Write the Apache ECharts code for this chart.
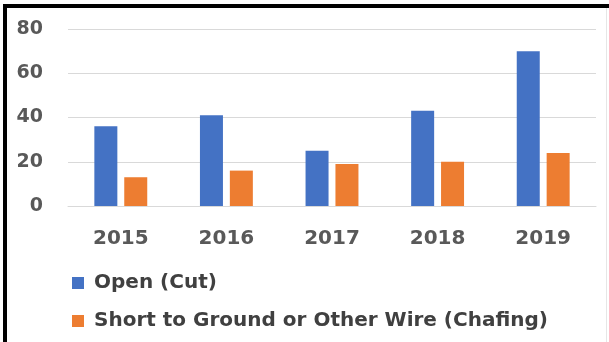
<!DOCTYPE html>
<html><head><meta charset="utf-8">
<script src="https://cdn.jsdelivr.net/npm/echarts@6/dist/echarts.min.js"></script>
<style>html,body{margin:0;padding:0;background:#fff}#c{width:609px;height:342px}</style>
</head><body><div id="c"></div>
<script>
const categories = ['2015','2016','2017','2018','2019'];
const openCut = [36, 41, 25, 43, 70];
const shortChafing = [13, 16, 19, 20, 24];
const seriesNames = ['Open (Cut)', 'Short to Ground or Other Wire (Chafing)'];

const chart = echarts.init(document.getElementById('c'));
const font = '"DejaVu Sans", sans-serif';
chart.setOption({
  animation: false,
  graphic: [
    {type:'rect', shape:{x:3,y:4,width:4,height:338}, style:{fill:'#000'}},
    {type:'rect', shape:{x:3,y:4,width:606,height:4}, style:{fill:'#000'}},
    {type:'rect', shape:{x:606,y:8,width:1,height:334}, style:{fill:'#e6e6e6'}}
  ],
  grid: {left:68, right:13, top:29, bottom:136, containLabel:false},
  legend: {
    orient:'vertical', left:67, top:268, itemGap:18,
    itemWidth:12, itemHeight:12, icon:'rect',
    textStyle:{fontFamily:font, fontWeight:'bold', fontSize:20, color:'#404040', padding:[0,0,0,5]},
    data: seriesNames
  },
  xAxis: {
    type:'category', data:categories,
    axisLine:{show:true, lineStyle:{color:'#d9d9d9'}}, axisTick:{show:false},
    axisLabel:{fontFamily:font, fontWeight:'bold', fontSize:20, color:'#595959', margin:23}
  },
  yAxis: {
    type:'value', min:0, max:80, interval:20,
    axisLine:{show:false}, axisTick:{show:false},
    splitLine:{lineStyle:{color:'#d9d9d9'}},
    axisLabel:{fontFamily:font, fontWeight:'bold', fontSize:19, color:'#595959', margin:25}
  },
  series: [
    {name:seriesNames[0], type:'bar', data:openCut, barWidth:23, barGap:'30%', itemStyle:{color:'#4472c4'}},
    {name:seriesNames[1], type:'bar', data:shortChafing, barWidth:23, itemStyle:{color:'#ed7d31'}}
  ]
});
</script></body></html>
